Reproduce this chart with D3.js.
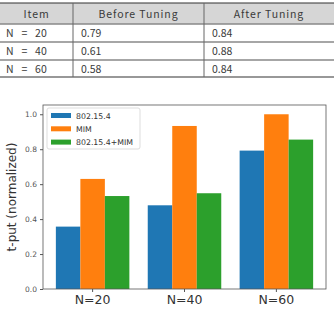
<!DOCTYPE html>
<html>
<head>
<meta charset="utf-8">
<script src="https://cdn.jsdelivr.net/npm/d3@7"></script>
<style>
  body { margin: 0; background: #fff; }
</style>
</head>
<body>
<script>
    // table data
    const tableHeader = ["Item", "Before Tuning", "After Tuning"];
    const tableItems = ["N = 20", "N = 40", "N = 60"];
    const beforeTuning = ["0.79", "0.61", "0.58"];
    const afterTuning = ["0.84", "0.88", "0.84"];

    // chart data
    const categories = ["N=20", "N=40", "N=60"];
    const seriesNames = ["802.15.4", "MIM", "802.15.4+MIM"];
    const s802 = [0.357, 0.479, 0.792];
    const sMIM = [0.63, 0.933, 1.0];
    const sBoth = [0.532, 0.548, 0.855];
    const yTicks = [0.0, 0.2, 0.4, 0.6, 0.8, 1.0];

    const colors = ["#1f77b4", "#ff7f0e", "#2ca02c"];
    const seriesValues = [s802, sMIM, sBoth];

    const W = 334, H = 311;
    const svg = d3.select("body").append("svg")
        .attr("width", W)
        .attr("height", H);

    // ---- table ----
    const tFont = "'Noto Sans CJK KR', 'Noto Sans', sans-serif";
    const colX = [0, 73, 204, 334];
    const rowY = [3, 24, 42, 60, 77];

    const tbl = svg.append("g");
    tbl.append("rect")
        .attr("x", 0).attr("y", rowY[0])
        .attr("width", W).attr("height", rowY[1] - rowY[0])
        .attr("fill", "#d6d6d6");

    rowY.forEach((y, i) => {
        tbl.append("line")
            .attr("x1", 0).attr("x2", W)
            .attr("y1", y).attr("y2", y)
            .attr("stroke", i == 0 || i == rowY.length - 1 ? "#333" : "#888")
            .attr("stroke-width", i == 0 || i == rowY.length - 1 ? 1.2 : 1.5);
    });
    [1, 2].forEach(c => {
        tbl.append("line")
            .attr("x1", colX[c]).attr("x2", colX[c])
            .attr("y1", rowY[0]).attr("y2", rowY[4])
            .attr("stroke", "#666");
    });

    tableHeader.forEach((t, c) => {
        tbl.append("text")
            .attr("x", (colX[c] + colX[c + 1]) / 2)
            .attr("y", (rowY[0] + rowY[1]) / 2 + 4)
            .attr("text-anchor", "middle")
            .attr("font-family", tFont)
            .attr("font-size", 10.5)
            .attr("letter-spacing", 0.9)
            .attr("fill", "#3a3a3a")
            .text(t);
    });

    const rows = tableItems.map((d, i) => [d, beforeTuning[i], afterTuning[i]]);
    rows.forEach((r, i) => {
        r.forEach((t, c) => {
            tbl.append("text")
                .attr("x", colX[c] + (c == 0 ? 6 : 8))
                .attr("y", (rowY[i + 1] + rowY[i + 2]) / 2 + 4)
                .attr("font-family", tFont)
                .attr("font-size", 10.5)
                .attr("word-spacing", c == 0 ? 5.5 : 0)
                .attr("fill", "#3a3a3a")
                .text(t);
        });
    });

    // ---- bar chart ----
    const m = { top: 105, right: 8, bottom: 22, left: 43 };
    const w = W - m.left - m.right;
    const h = H - m.top - m.bottom;

    const g = svg.append("g").attr("transform", "translate(" + m.left + "," + m.top + ")");

    const xScale = d3.scaleBand()
        .domain(categories)
        .range([0, w])
        .paddingInner(0.2)
        .paddingOuter(0.14);

    const xSub = d3.scaleBand()
        .domain(seriesNames)
        .range([0, xScale.bandwidth()]);

    const yScale = d3.scaleLinear()
        .domain([0, 1.053])
        .range([h, 0]);

    // bars
    seriesNames.forEach((s, si) => {
        g.append("g").selectAll("rect")
            .data(seriesValues[si])
            .enter()
            .append("rect")
            .attr("x", (d, i) => xScale(categories[i]) + xSub(s))
            .attr("y", d => yScale(d))
            .attr("width", xSub.bandwidth())
            .attr("height", d => h - yScale(d))
            .attr("fill", colors[si]);
    });

    // frame
    g.append("rect")
        .attr("width", w).attr("height", h)
        .attr("fill", "none")
        .attr("stroke", "#555")
        .attr("stroke-width", 0.8);

    // y axis
    const yAxis = d3.axisLeft(yScale)
        .tickValues(yTicks)
        .tickFormat(d3.format(".1f"))
        .tickSize(3)
        .tickPadding(3);
    const ya = g.append("g").call(yAxis);
    ya.select(".domain").remove();
    ya.selectAll("line").attr("stroke", "#555");
    ya.selectAll("text")
        .attr("font-family", "DejaVu Sans")
        .attr("font-size", 7.5)
        .attr("fill", "#555");

    // x axis
    const xAxis = d3.axisBottom(xScale).tickSize(3).tickPadding(3);
    const xa = g.append("g").attr("transform", "translate(0," + h + ")").call(xAxis);
    xa.select(".domain").remove();
    xa.selectAll("line").attr("stroke", "#555");
    xa.selectAll("text")
        .attr("font-family", "DejaVu Sans")
        .attr("font-size", 12.5)
        .attr("fill", "#333");

    // y label
    svg.append("text")
        .attr("transform", "translate(16," + (m.top + h / 2) + ") rotate(-90)")
        .attr("text-anchor", "middle")
        .attr("font-family", "DejaVu Sans")
        .attr("font-size", 12)
        .attr("fill", "#333")
        .text("t-put (normalized)");

    // legend
    const lg = g.append("g").attr("transform", "translate(4,3)");
    lg.append("rect")
        .attr("width", 93).attr("height", 41)
        .attr("rx", 2)
        .attr("fill", "#fff")
        .attr("fill-opacity", 0.85)
        .attr("stroke", "#ddd");
    seriesNames.forEach((s, i) => {
        lg.append("rect")
            .attr("x", 4).attr("y", 5 + i * 13.3)
            .attr("width", 20).attr("height", 5)
            .attr("fill", colors[i]);
        lg.append("text")
            .attr("x", 29).attr("y", 10.5 + i * 13.3)
            .attr("font-family", "DejaVu Sans")
            .attr("font-size", 7.8)
            .attr("fill", "#333")
            .text(s);
    });
</script>
</body>
</html>
